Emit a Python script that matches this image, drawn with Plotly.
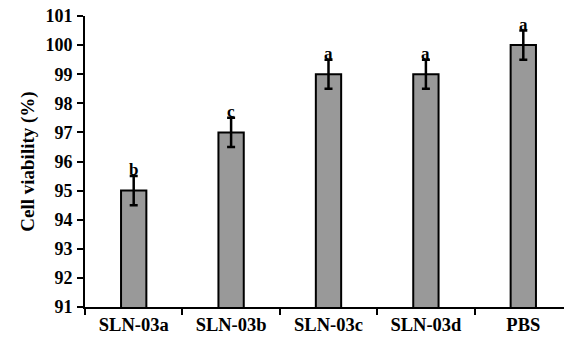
import plotly.graph_objects as go

categories = ["SLN-03a", "SLN-03b", "SLN-03c", "SLN-03d", "PBS"]
viability = [95.0, 97.0, 99.0, 99.0, 100.0]
errors = [0.5, 0.5, 0.5, 0.5, 0.5]
letters = ["b", "c", "a", "a", "a"]
y_ticks = list(range(91, 102))

font_fam = "Liberation Serif"

fig = go.Figure()
fig.add_trace(go.Bar(
    x=categories, y=viability,
    base=0,
    marker=dict(color="#999999", line=dict(color="#000000", width=2)),
    width=0.26,
    error_y=dict(type="data", array=errors, visible=True, color="#000000",
                 thickness=2.5, width=4),
))

for c, v, e, l in zip(categories, viability, errors, letters):
    fig.add_annotation(x=c, y=v + e, text=f"<b>{l}</b>", showarrow=False, yanchor="bottom",
                       yshift=-5, font=dict(family=font_fam, size=17, color="#000"))

# page body has an 8px margin, so the figure is offset by 8px
fig.update_layout(
    width=564, height=333,
    margin=dict(l=77, r=0, t=8, b=34, autoexpand=False),
    plot_bgcolor="white", paper_bgcolor="white",
    showlegend=False,
    font=dict(family=font_fam, color="#000"),
)
fig.update_xaxes(
    type="category", tickson="boundaries", ticks="outside", ticklen=6,
    tickwidth=2, tickcolor="#000", showline=True, linecolor="#000", linewidth=2,
    range=[-0.5, 4.5], tickfont=dict(family=font_fam, size=18.5, color="#000"),
    showgrid=False, automargin=False,
    tickvals=categories, ticktext=[f"<b>{c}</b>" for c in categories],
)
fig.update_yaxes(
    range=[91, 101], tickvals=y_ticks, ticktext=[f"<b>{t}</b>" for t in y_ticks],
    ticks="outside", ticklen=6, tickwidth=2,
    tickcolor="#000", showline=True, linecolor="#000", linewidth=2,
    showgrid=False, zeroline=False, automargin=False,
    tickfont=dict(family=font_fam, size=18, color="#000"),
    title=dict(text="<b>Cell viability (%)</b>", font=dict(family=font_fam, size=19, color="#000"), standoff=6),
    ticklabelstandoff=1, ticklabeloverflow="allow",
)

fig.write_html(
    "out.html",
    post_script="document.querySelectorAll('svg.main-svg').forEach(function(s){s.style.overflow='visible';});",
)
